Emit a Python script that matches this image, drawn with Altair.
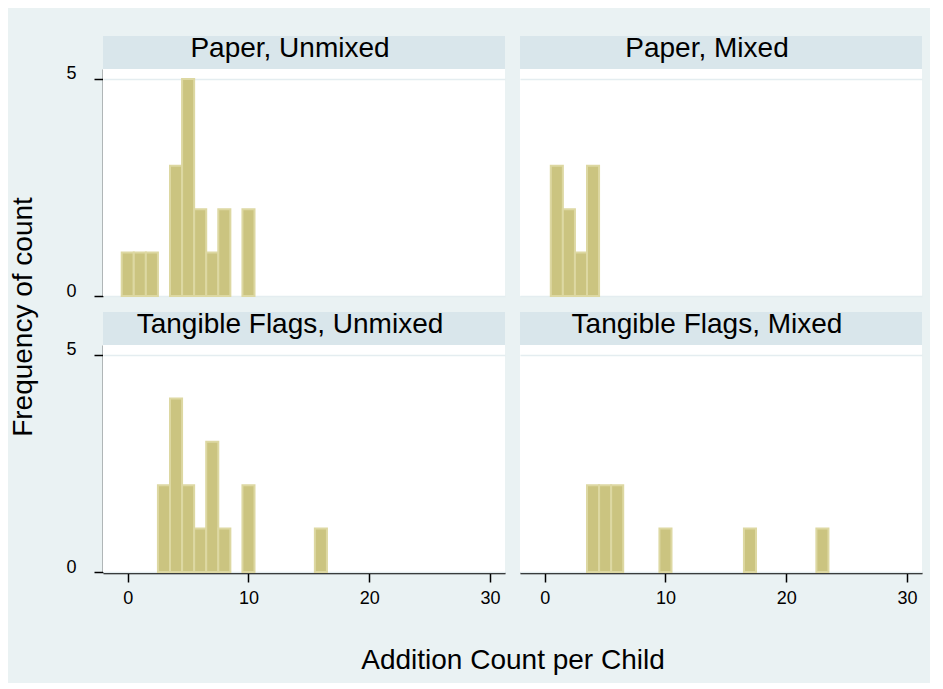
import altair as alt
import pandas as pd

# ---- data ----
panel_names = ["Paper, Unmixed", "Paper, Mixed", "Tangible Flags, Unmixed", "Tangible Flags, Mixed"]
medium = ["Paper", "Paper", "Tangible Flags", "Tangible Flags"]
mixing = ["Unmixed", "Mixed", "Unmixed", "Mixed"]

pu_values = [0, 1, 2, 4, 5, 6, 7, 8, 10]
pu_counts = [1, 1, 1, 3, 5, 2, 1, 2, 2]
pm_values = [1, 2, 3, 4]
pm_counts = [3, 2, 1, 3]
tu_values = [3, 4, 5, 6, 7, 8, 10, 16]
tu_counts = [2, 4, 2, 1, 3, 1, 2, 1]
tm_values = [4, 5, 6, 10, 17, 23]
tm_counts = [2, 2, 2, 1, 1, 1]

x_ticks = [0, 10, 20, 30]
y_ticks = [0, 5]

all_values = [pu_values, pm_values, tu_values, tm_values]
all_counts = [pu_counts, pm_counts, tu_counts, tm_counts]

rows = []
for p, md, mx, vals, cnts in zip(panel_names, medium, mixing, all_values, all_counts):
    for v, c in zip(vals, cnts):
        rows.append({"panel": p, "medium": md, "mixing": mx, "value": v, "count": c})
df = pd.DataFrame(rows)

FONT = "Liberation Sans"
BG = "#EAF2F3"
STRIP = "#D9E6EB"
BAR = "#CBC480"
BAR_EDGE = "#DDD8A2"
W, H = 402, 227

strip = alt.Chart().transform_aggregate(
    n="count()", groupby=["panel"]
).mark_rect(color=STRIP).encode(
    x=alt.value(0), x2=alt.value(W), y=alt.value(-33), y2=alt.value(0)
)

label = alt.Chart().transform_aggregate(
    n="count()", groupby=["panel"]
).mark_text(
    font=FONT, fontSize=28, color="black", align="center", baseline="alphabetic", dx=-14
).encode(
    x=alt.value(W / 2), y=alt.value(-12), text="panel:N"
)

bars = alt.Chart().transform_calculate(
    lo="datum.value - 0.5", hi="datum.value + 0.5"
).mark_rect(color=BAR, stroke=BAR_EDGE, strokeWidth=2).encode(
    x=alt.X("lo:Q",
            scale=alt.Scale(domain=[-2.05, 31.25], nice=False, zero=False),
            axis=alt.Axis(values=x_ticks, title=None, grid=False, labelPadding=7)),
    x2="hi:Q",
    y=alt.Y("count:Q",
            scale=alt.Scale(domain=[0, 5.23], nice=False),
            axis=alt.Axis(values=y_ticks, title=None, grid=True, labelPadding=18,
                          labelOffset=-5)),
    y2=alt.datum(0),
)

facets = alt.layer(strip, bars, label, data=df).properties(width=W, height=H).facet(
    row=alt.Row("medium:N", sort=["Paper", "Tangible Flags"],
                header=alt.Header(labels=False, title=None)),
    column=alt.Column("mixing:N", sort=["Unmixed", "Mixed"],
                      header=alt.Header(labels=False, title="Addition Count per Child",
                                        orient="bottom",
                                        titleFont=FONT, titleFontSize=28, titleFontWeight="normal",
                                        titleColor="black", titlePadding=30)),
    spacing={"row": 14, "column": 15},
)

chart = alt.hconcat(facets).properties(
    title=alt.TitleParams("Frequency of count", orient="left", anchor="middle",
                          frame="bounds", font=FONT, fontSize=28, fontWeight="normal",
                          color="black", offset=28, dx=38),
    background=BG,
    padding={"left": 1, "top": 27, "right": 8, "bottom": 8},
).configure_view(
    fill="white", strokeWidth=0
).configure_axis(
    labelFont=FONT, labelFontSize=18, labelColor="black",
    domainColor="black", domainWidth=1.5,
    tickColor="black", tickWidth=1.5, tickSize=9,
    gridColor="#E4EDF0", gridWidth=1.5,
)

chart.save("out.html", embed_options={"renderer": "svg", "actions": False})
